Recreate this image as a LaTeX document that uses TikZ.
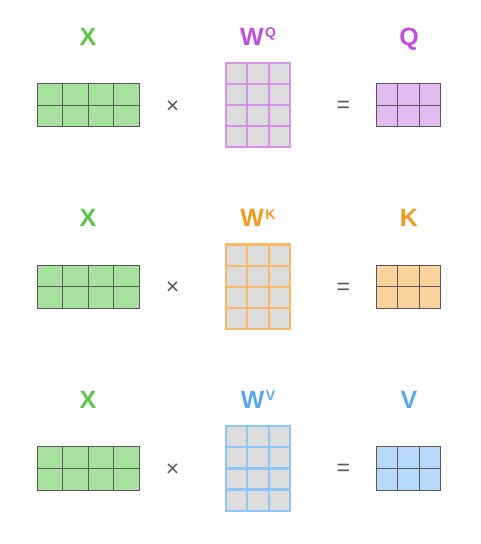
\documentclass[tikz,border=0pt]{standalone}
\usepackage{fontspec}
\setmainfont{Liberation Sans}
\usetikzlibrary{positioning}
\definecolor{colx}{HTML}{5CC649}
\definecolor{fillx}{HTML}{A6E29E}
\definecolor{colq}{HTML}{C14FDD}
\definecolor{lineq}{HTML}{D792EA}
\definecolor{fillq}{HTML}{E3BDF2}
\definecolor{colk}{HTML}{F29A1F}
\definecolor{linek}{HTML}{F8BA68}
\definecolor{fillk}{HTML}{FCD39C}
\definecolor{colv}{HTML}{5AA9EE}
\definecolor{linev}{HTML}{90C6F5}
\definecolor{fillv}{HTML}{B6D8FA}
\definecolor{cellgray}{HTML}{DCDCDC}
\newcommand{\sups}[1]{\kern1.5pt{\fontsize{14}{14}\selectfont\raisebox{7.5pt}{#1}}}

\begin{document}
\begin{tikzpicture}[x=1pt, y=-1pt,
  lbl/.style={anchor=base, inner sep=0pt, font=\fontsize{25}{25}\selectfont\bfseries},
  op/.style={inner sep=0pt, text=black!65, font=\fontsize{23}{23}\selectfont},
  cell/.style={draw=black!65, line width=1pt},
  wcell/.style={fill=cellgray, line width=2.2pt}]
  \useasboundingbox (0,0) rectangle (480,544);
  \foreach \r/\n/\c in {0/Q/q, 1/K/k, 2/V/v}{
    \begin{scope}[yshift={-181.7pt*\r}]
      % input X
      \node[lbl, text=colx] (lx\r) at (88,45) {X};
      \foreach \i in {0,...,3}
        \foreach \j in {0,1}
          \draw[cell, fill=fillx] (37+25.6*\i, 83.3+21.7*\j) rectangle ++(25.6,21.7);
      \node[op] (times\r) at (172.7,106.7) {×};
      % weights
      \node[lbl, text=col\c] (lw\r) at (258,45) {W\sups{\n}};
      \foreach \i in {0,1,2}
        \foreach \j in {0,...,3}
          \draw[wcell, draw=line\c] (226.1+21.27*\i, 62.8+21.1*\j) rectangle ++(21.27,21.1);
      \node[op] (eq\r) at (343.3,106.7) {=};
      % result
      \node[lbl, text=col\c] (lr\r) at (409,45) {\n};
      \foreach \i in {0,1,2}
        \foreach \j in {0,1}
          \draw[cell, fill=fill\c] (376+21.6*\i, 83.3+21.7*\j) rectangle ++(21.6,21.7);
    \end{scope}
  }
\end{tikzpicture}
\end{document}
